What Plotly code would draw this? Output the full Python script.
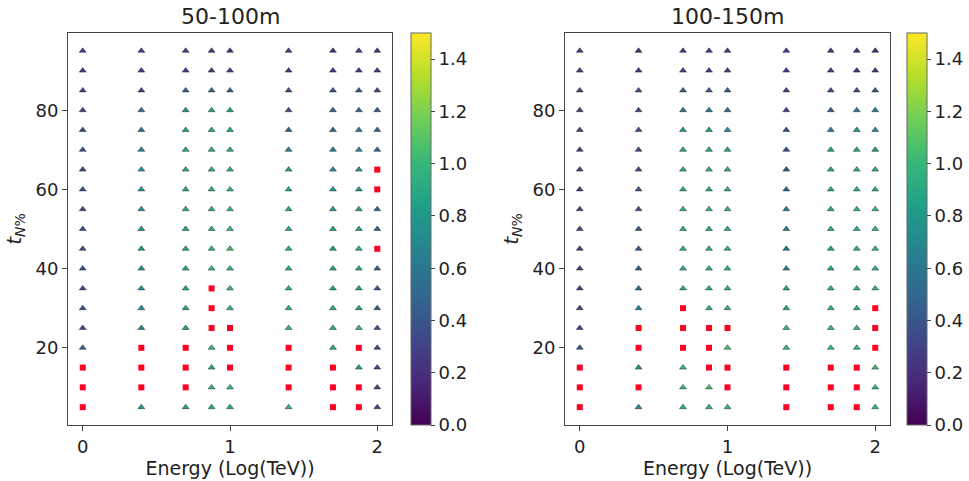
import plotly.graph_objects as go

# Energies (log10 TeV) and t_N% levels
energy = [0.0, 0.398, 0.699, 0.875, 1.0, 1.398, 1.699, 1.875, 2.0]
t_levels = [95, 90, 85, 80, 75, 70, 65, 60, 55, 50, 45, 40, 35, 30, 25, 20, 15, 10, 5]

# Colour values per (t row, energy column); None = highlighted (red square)
vals_50_100 = [
    [0.3, 0.3, 0.3, 0.3, 0.2, 0.3, 0.25, 0.3, 0.25],
    [0.3, 0.3, 0.3, 0.3, 0.3, 0.3, 0.25, 0.3, 0.25],
    [0.3, 0.3, 0.45, 0.5, 0.5, 0.35, 0.35, 0.4, 0.3],
    [0.3, 0.5, 0.75, 0.85, 0.85, 0.35, 0.45, 0.5, 0.4],
    [0.35, 0.55, 0.85, 0.9, 0.9, 0.45, 0.5, 0.6, 0.45],
    [0.35, 0.7, 0.9, 0.95, 0.95, 0.7, 0.65, 0.7, 0.5],
    [0.35, 0.8, 0.9, 0.95, 0.95, 0.85, 0.75, 0.8, None],
    [0.35, 0.8, 0.9, 0.95, 1.0, 0.9, 0.8, 0.8, None],
    [0.35, 0.8, 0.9, 0.95, 1.0, 0.9, 0.8, 0.85, 0.5],
    [0.35, 0.8, 0.9, 0.95, 1.0, 0.9, 0.85, 0.85, 0.5],
    [0.35, 0.8, 0.9, 1.0, 1.05, 0.95, 0.85, 0.95, None],
    [0.35, 0.8, 0.9, 1.0, 1.0, 0.95, 0.85, 0.9, 0.45],
    [0.35, 0.75, 0.9, None, 1.0, 0.95, 0.9, 0.85, 0.4],
    [0.35, 0.75, 0.9, None, 1.0, 0.95, 0.9, 0.85, 0.4],
    [0.35, 0.7, 0.85, None, None, 1.0, 0.95, 1.0, 0.4],
    [0.5, None, None, 1.0, None, None, 0.9, None, 0.35],
    [None, None, None, 0.9, None, None, None, 0.85, 0.3],
    [None, None, None, 1.0, 1.0, None, None, None, 0.3],
    [None, 0.8, 0.85, 0.9, 0.9, 1.0, None, None, 0.3],
]

vals_100_150 = [
    [0.3, 0.2, 0.3, 0.3, 0.3, 0.3, 0.3, 0.2, 0.2],
    [0.3, 0.25, 0.3, 0.3, 0.3, 0.3, 0.3, 0.25, 0.25],
    [0.3, 0.35, 0.4, 0.4, 0.4, 0.3, 0.35, 0.35, 0.4],
    [0.3, 0.35, 0.55, 0.6, 0.55, 0.3, 0.4, 0.6, 0.6],
    [0.3, 0.35, 0.8, 0.85, 0.75, 0.35, 0.6, 0.8, 0.7],
    [0.3, 0.35, 0.9, 0.9, 0.9, 0.35, 0.85, 0.9, 0.85],
    [0.3, 0.35, 0.9, 0.95, 0.95, 0.4, 0.9, 0.95, 0.95],
    [0.3, 0.35, 0.95, 0.95, 0.95, 0.5, 0.9, 0.95, 0.95],
    [0.3, 0.35, 0.95, 0.95, 0.95, 0.6, 0.9, 0.95, 1.0],
    [0.3, 0.4, 0.95, 0.95, 0.95, 0.6, 0.9, 0.95, 1.0],
    [0.3, 0.4, 0.95, 0.95, 0.95, 0.6, 0.9, 0.95, 1.0],
    [0.3, 0.45, 0.95, 0.95, 0.95, 0.7, 0.9, 0.95, 1.0],
    [0.3, 0.5, 0.95, 0.95, 0.95, 0.85, 0.95, 0.95, 1.0],
    [0.3, 0.7, None, 0.95, 0.95, 0.9, 0.95, 0.95, None],
    [0.3, None, None, None, None, 1.0, 1.0, 1.0, None],
    [0.4, None, None, None, 1.05, 1.0, 1.0, 1.0, None],
    [None, 0.75, 1.0, None, None, None, None, None, 1.05],
    [None, None, 1.0, 1.05, None, None, None, None, 1.0],
    [None, 0.7, 0.9, 0.95, 1.0, None, None, None, 1.0],
]

panel_titles = ["50-100m", "100-150m"]
cbar_ticks = [0.0, 0.2, 0.4, 0.6, 0.8, 1.0, 1.2, 1.4]

FONT = "DejaVu Sans"
W, H = 969, 481

fig = go.Figure()


def split(grid):
    tx, ty, tc, rx, ry = [], [], [], [], []
    for i, t in enumerate(t_levels):
        for j, e in enumerate(energy):
            v = grid[i][j]
            if v is None:
                rx.append(e)
                ry.append(t)
            else:
                tx.append(e)
                ty.append(t)
                tc.append(v)
    return tx, ty, tc, rx, ry


x_domains = [[68 / W, 392 / W], [565 / W, 890 / W]]
y_domain = [1 - 425 / H, 1 - 33 / H]
cbar_x = [411 / W, 907 / W]

for k, grid in enumerate([vals_50_100, vals_100_150]):
    tx, ty, tc, rx, ry = split(grid)
    xa = "x" if k == 0 else "x2"
    ya = "y" if k == 0 else "y2"
    ca = "coloraxis" if k == 0 else "coloraxis2"
    fig.add_trace(go.Scatter(
        x=tx, y=ty, mode="markers", xaxis=xa, yaxis=ya,
        marker=dict(symbol="triangle-up", size=6, color=tc, coloraxis=ca,
                    line=dict(width=0.6, color="rgba(20,20,20,0.75)")),
        showlegend=False, hoverinfo="x+y"))
    fig.add_trace(go.Scatter(
        x=rx, y=ry, mode="markers", xaxis=xa, yaxis=ya,
        marker=dict(symbol="square", size=6, color="#ff0022",
                    line=dict(width=0)),
        showlegend=False, hoverinfo="x+y"))

axis_common = dict(
    showgrid=False, zeroline=False, showline=True, mirror=True,
    linecolor="#444", linewidth=1, ticks="outside", ticklen=5,
    tickcolor="#444", tickfont=dict(family=FONT, size=18, color="#222"),
)

xaxis_cfg = dict(axis_common, range=[-0.1, 2.1], tickvals=[0, 1, 2],
                 title=dict(text="Energy (Log(TeV))",
                            font=dict(family=FONT, size=19, color="#222"),
                            standoff=4))
yaxis_cfg = dict(axis_common, range=[0.5, 99.5], tickvals=[20, 40, 60, 80],
                 title=dict(text="<i>t</i><sub><i>N</i>%</sub>",
                            font=dict(family=FONT, size=20, color="#222"),
                            standoff=8))

cbar_common = dict(
    thickness=20, thicknessmode="pixels", len=y_domain[1] - y_domain[0],
    lenmode="fraction", y=y_domain[0], yanchor="bottom", xanchor="left",
    xpad=0, ypad=0, outlinewidth=1, outlinecolor="#666",
    tickvals=cbar_ticks, ticktext=[f"{v:.1f}" for v in cbar_ticks],
    ticks="outside", ticklen=4, tickcolor="#444",
    tickfont=dict(family=FONT, size=18, color="#222"),
)

fig.update_layout(
    width=W, height=H,
    margin=dict(l=0, r=0, t=0, b=0),
    paper_bgcolor="white", plot_bgcolor="white",
    xaxis=dict(xaxis_cfg, domain=x_domains[0], anchor="y"),
    yaxis=dict(yaxis_cfg, domain=y_domain, anchor="x"),
    xaxis2=dict(xaxis_cfg, domain=x_domains[1], anchor="y2"),
    yaxis2=dict(yaxis_cfg, domain=y_domain, anchor="x2"),
    coloraxis=dict(colorscale="Viridis", cmin=0, cmax=1.5,
                   colorbar=dict(cbar_common, x=cbar_x[0])),
    coloraxis2=dict(colorscale="Viridis", cmin=0, cmax=1.5,
                    colorbar=dict(cbar_common, x=cbar_x[1])),
)

for k, title in enumerate(panel_titles):
    fig.add_annotation(
        text=title, xref="paper", yref="paper",
        x=(x_domains[k][0] + x_domains[k][1]) / 2, y=1 - 17 / H,
        xanchor="center", yanchor="middle", showarrow=False,
        font=dict(family=FONT, size=22, color="#222"))

fig.write_html("out.html")
